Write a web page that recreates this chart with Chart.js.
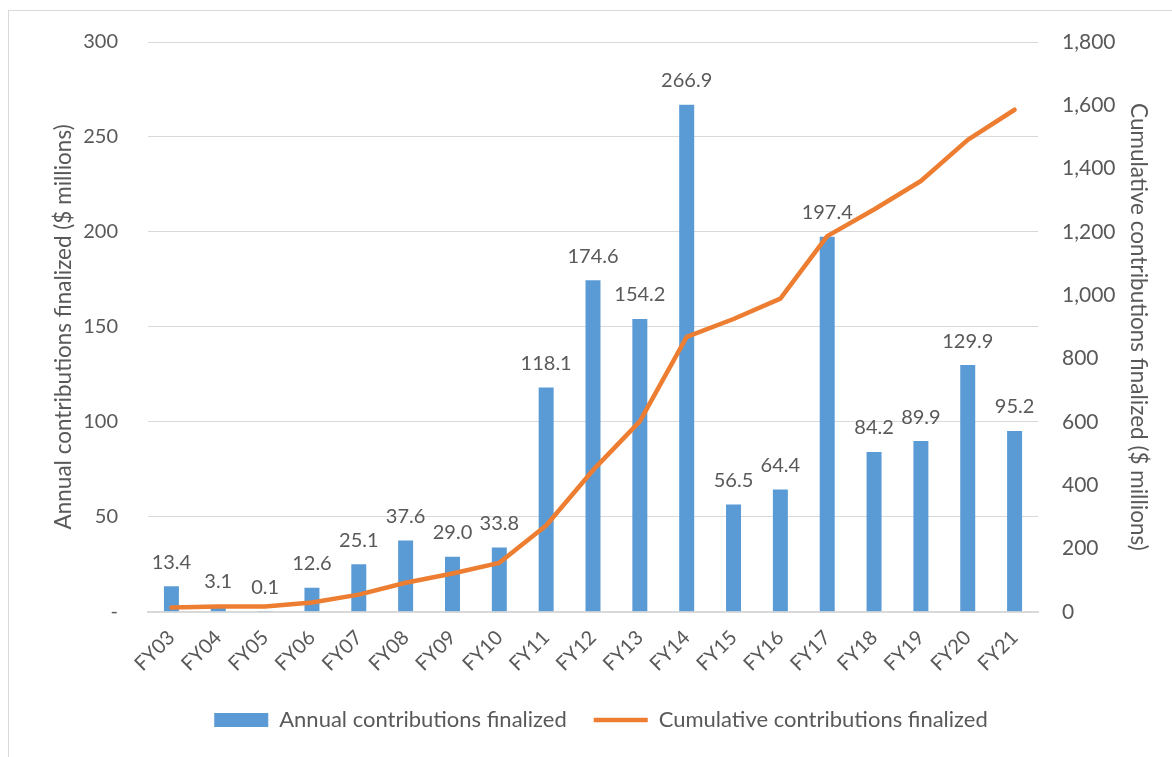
<!DOCTYPE html>
<html>
<head>
<meta charset="utf-8">
<script src="https://cdn.jsdelivr.net/npm/chart.js@4.4.1/dist/chart.umd.min.js"></script>
<style>
html, body { margin: 0; padding: 0; background: #ffffff; }
#frame { position: absolute; left: 8px; top: 10px; width: 1200px; height: 800px; border: 1px solid #d9d9d9; }
#wrap { position: absolute; left: 0; top: 0; width: 1172px; height: 757px; }
</style>
</head>
<body>
<div id="frame"></div>
<div id="wrap"><canvas id="contribChart"></canvas></div>
<script>
const years = ["FY03","FY04","FY05","FY06","FY07","FY08","FY09","FY10","FY11","FY12","FY13","FY14","FY15","FY16","FY17","FY18","FY19","FY20","FY21"];
const annual = [13.4, 3.1, 0.1, 12.6, 25.1, 37.6, 29.0, 33.8, 118.1, 174.6, 154.2, 266.9, 56.5, 64.4, 197.4, 84.2, 89.9, 129.9, 95.2];
const cumulative = [13.4, 16.5, 16.6, 29.2, 54.3, 91.9, 120.9, 154.7, 272.8, 447.4, 601.6, 868.5, 925.0, 989.4, 1186.8, 1271.0, 1360.9, 1490.8, 1586.0];

const textColor = "#595959";
const fontFamily = "Lato, 'Open Sans', sans-serif";

/* labels above the bars */
const barLabels = {
  id: "barLabels",
  afterDatasetsDraw(chart) {
    const ctx = chart.ctx;
    const meta = chart.getDatasetMeta(1);
    ctx.save();
    ctx.font = "20px " + fontFamily;
    ctx.fillStyle = textColor;
    ctx.textAlign = "center";
    ctx.textBaseline = "bottom";
    meta.data.forEach(function (bar, i) {
      ctx.fillText(annual[i].toFixed(1), bar.x, bar.y - 14);
    });
    ctx.restore();
  }
};

const ctx = document.getElementById("contribChart").getContext("2d");

new Chart(ctx, {
  type: "bar",
  data: {
    labels: years,
    datasets: [
      {
        type: "line",
        label: "Cumulative contributions finalized",
        data: cumulative,
        yAxisID: "y2",
        borderColor: "#ED7D31",
        backgroundColor: "#ED7D31",
        borderWidth: 4.5,
        pointRadius: 0,
        tension: 0,
        borderJoinStyle: "round",
        borderCapStyle: "round",
        pointStyle: "line",
        order: 0
      },
      {
        label: "Annual contributions finalized",
        data: annual,
        yAxisID: "y",
        backgroundColor: "#5B9BD5",
        barPercentage: 0.32,
        categoryPercentage: 1,
        pointStyle: "rect",
        order: 1
      }
    ]
  },
  options: {
    responsive: true,
    maintainAspectRatio: false,
    animation: false,
    layout: {
      padding: { left: 46, right: 16, top: 20, bottom: 16 }
    },
    plugins: {
      legend: {
        position: "bottom",
        reverse: true,
        labels: {
          usePointStyle: true,
          pointStyleWidth: 54,
          boxHeight: 14,
          padding: 27,
          color: textColor,
          font: { family: fontFamily, size: 22 }
        }
      },
      tooltip: { enabled: false }
    },
    scales: {
      x: {
        grid: { display: false },
        border: { display: true, color: "#d9d9d9", width: 2 },
        ticks: {
          color: textColor,
          font: { family: fontFamily, size: 20 },
          minRotation: 45,
          maxRotation: 45,
          padding: 6
        }
      },
      y: {
        position: "left",
        min: 0,
        max: 300,
        grid: { color: "#d9d9d9", drawTicks: false },
        border: { display: false },
        afterFit: function (scale) { scale.width = 102; },
        ticks: {
          stepSize: 50,
          padding: 30,
          color: textColor,
          font: { family: fontFamily, size: 20 },
          callback: function (v) { return v === 0 ? "-" : v; }
        },
        title: {
          display: true,
          text: "Annual contributions finalized ($ millions)",
          color: textColor,
          font: { family: fontFamily, size: 22.5 },
          padding: { top: 4, bottom: 4 }
        }
      },
      y2: {
        position: "right",
        min: 0,
        max: 1800,
        grid: { display: false, drawTicks: false },
        border: { display: false },
        afterFit: function (scale) { scale.width = 118; },
        ticks: {
          stepSize: 200,
          padding: 24,
          color: textColor,
          font: { family: fontFamily, size: 21 },
          callback: function (v) { return v.toLocaleString("en-US"); }
        },
        title: {
          display: true,
          text: "Cumulative contributions finalized ($ millions)",
          color: textColor,
          font: { family: fontFamily, size: 22.5 },
          padding: { top: 4, bottom: 4 }
        }
      }
    }
  },
  plugins: [barLabels]
});
</script>
</body>
</html>
